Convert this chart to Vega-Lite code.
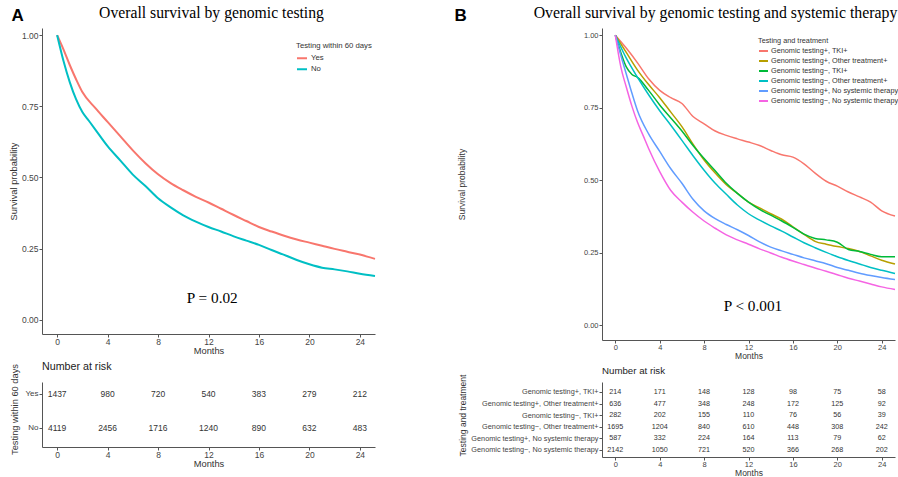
{
  "$schema": "https://vega.github.io/schema/vega-lite/v6.json",
  "background": "white",
  "padding": {"left": 9, "top": 4, "right": 0, "bottom": 0},
  "config": {
    "view": {"stroke": null},
    "font": "Liberation Sans",
    "axis": {"grid": false, "domainColor": "#555", "tickColor": "#555", "labelColor": "#444", "titleColor": "#333", "titleFontWeight": "normal", "tickSize": 3, "labelFont": "Liberation Sans", "titleFont": "Liberation Sans", "labelFlush": false},
    "legend": {"padding": 0, "labelFont": "Liberation Sans", "titleFont": "Liberation Sans", "titleFontWeight": "normal", "titleColor": "#333", "labelColor": "#333"},
    "title": {"font": "Liberation Sans", "fontWeight": "normal", "color": "#222"}
  },
  "datasets": {
    "survA": [
      {"group":"Yes","month":0,"surv":1},{"group":"Yes","month":0.5,"surv":0.95},{"group":"Yes","month":1,"surv":0.895},{"group":"Yes","month":1.5,"surv":0.845},{"group":"Yes","month":2,"surv":0.8},{"group":"Yes","month":3,"surv":0.745},{"group":"Yes","month":4,"surv":0.695},{"group":"Yes","month":5,"surv":0.645},{"group":"Yes","month":6,"surv":0.595},{"group":"Yes","month":7,"surv":0.55},{"group":"Yes","month":8,"surv":0.511},{"group":"Yes","month":9,"surv":0.48},{"group":"Yes","month":10,"surv":0.455},{"group":"Yes","month":11,"surv":0.432},{"group":"Yes","month":12,"surv":0.412},{"group":"Yes","month":13,"surv":0.39},{"group":"Yes","month":14,"surv":0.368},{"group":"Yes","month":15,"surv":0.347},{"group":"Yes","month":16,"surv":0.326},{"group":"Yes","month":17,"surv":0.31},{"group":"Yes","month":18,"surv":0.295},{"group":"Yes","month":19,"surv":0.282},{"group":"Yes","month":20,"surv":0.271},{"group":"Yes","month":21,"surv":0.26},{"group":"Yes","month":22,"surv":0.249},{"group":"Yes","month":23,"surv":0.239},{"group":"Yes","month":24,"surv":0.229},{"group":"Yes","month":25.2,"surv":0.214},
      {"group":"No","month":0,"surv":1},{"group":"No","month":0.5,"surv":0.91},{"group":"No","month":1,"surv":0.835},{"group":"No","month":1.5,"surv":0.775},{"group":"No","month":2,"surv":0.73},{"group":"No","month":2.5,"surv":0.7},{"group":"No","month":3,"surv":0.67},{"group":"No","month":4,"surv":0.61},{"group":"No","month":5,"surv":0.56},{"group":"No","month":6,"surv":0.51},{"group":"No","month":7,"surv":0.47},{"group":"No","month":8,"surv":0.427},{"group":"No","month":9,"surv":0.395},{"group":"No","month":10,"surv":0.367},{"group":"No","month":11,"surv":0.345},{"group":"No","month":12,"surv":0.326},{"group":"No","month":13,"surv":0.31},{"group":"No","month":14,"surv":0.293},{"group":"No","month":15,"surv":0.278},{"group":"No","month":16,"surv":0.263},{"group":"No","month":17,"surv":0.245},{"group":"No","month":18,"surv":0.228},{"group":"No","month":19,"surv":0.21},{"group":"No","month":20,"surv":0.195},{"group":"No","month":21,"surv":0.183},{"group":"No","month":22,"surv":0.177},{"group":"No","month":23,"surv":0.17},{"group":"No","month":24,"surv":0.162},{"group":"No","month":25.2,"surv":0.154}
    ],
    "survB": [
      {"group":"Genomic testing+, TKI+","month":0,"surv":1},{"group":"Genomic testing+, TKI+","month":1,"surv":0.955},{"group":"Genomic testing+, TKI+","month":2,"surv":0.905},{"group":"Genomic testing+, TKI+","month":3,"surv":0.85},{"group":"Genomic testing+, TKI+","month":4,"surv":0.81},{"group":"Genomic testing+, TKI+","month":5,"surv":0.785},{"group":"Genomic testing+, TKI+","month":6,"surv":0.765},{"group":"Genomic testing+, TKI+","month":7,"surv":0.72},{"group":"Genomic testing+, TKI+","month":8,"surv":0.695},{"group":"Genomic testing+, TKI+","month":9,"surv":0.67},{"group":"Genomic testing+, TKI+","month":10,"surv":0.655},{"group":"Genomic testing+, TKI+","month":11,"surv":0.643},{"group":"Genomic testing+, TKI+","month":12,"surv":0.632},{"group":"Genomic testing+, TKI+","month":13,"surv":0.62},{"group":"Genomic testing+, TKI+","month":14,"surv":0.603},{"group":"Genomic testing+, TKI+","month":15,"surv":0.588},{"group":"Genomic testing+, TKI+","month":16,"surv":0.58},{"group":"Genomic testing+, TKI+","month":17,"surv":0.557},{"group":"Genomic testing+, TKI+","month":18,"surv":0.525},{"group":"Genomic testing+, TKI+","month":19,"surv":0.497},{"group":"Genomic testing+, TKI+","month":20,"surv":0.48},{"group":"Genomic testing+, TKI+","month":21,"surv":0.46},{"group":"Genomic testing+, TKI+","month":22,"surv":0.443},{"group":"Genomic testing+, TKI+","month":23,"surv":0.425},{"group":"Genomic testing+, TKI+","month":24,"surv":0.395},{"group":"Genomic testing+, TKI+","month":25.2,"surv":0.377},
      {"group":"Genomic testing+, Other treatment+","month":0,"surv":1},{"group":"Genomic testing+, Other treatment+","month":1,"surv":0.94},{"group":"Genomic testing+, Other treatment+","month":2,"surv":0.88},{"group":"Genomic testing+, Other treatment+","month":3,"surv":0.83},{"group":"Genomic testing+, Other treatment+","month":4,"surv":0.785},{"group":"Genomic testing+, Other treatment+","month":5,"surv":0.735},{"group":"Genomic testing+, Other treatment+","month":6,"surv":0.685},{"group":"Genomic testing+, Other treatment+","month":7,"surv":0.625},{"group":"Genomic testing+, Other treatment+","month":8,"surv":0.57},{"group":"Genomic testing+, Other treatment+","month":9,"surv":0.525},{"group":"Genomic testing+, Other treatment+","month":10,"surv":0.485},{"group":"Genomic testing+, Other treatment+","month":11,"surv":0.455},{"group":"Genomic testing+, Other treatment+","month":12,"surv":0.425},{"group":"Genomic testing+, Other treatment+","month":13,"surv":0.405},{"group":"Genomic testing+, Other treatment+","month":14,"surv":0.385},{"group":"Genomic testing+, Other treatment+","month":15,"surv":0.366},{"group":"Genomic testing+, Other treatment+","month":16,"surv":0.34},{"group":"Genomic testing+, Other treatment+","month":17,"surv":0.314},{"group":"Genomic testing+, Other treatment+","month":18,"surv":0.29},{"group":"Genomic testing+, Other treatment+","month":19,"surv":0.28},{"group":"Genomic testing+, Other treatment+","month":20,"surv":0.272},{"group":"Genomic testing+, Other treatment+","month":21,"surv":0.265},{"group":"Genomic testing+, Other treatment+","month":22,"surv":0.255},{"group":"Genomic testing+, Other treatment+","month":23,"surv":0.24},{"group":"Genomic testing+, Other treatment+","month":24,"surv":0.225},{"group":"Genomic testing+, Other treatment+","month":25.2,"surv":0.212},
      {"group":"Genomic testing−, TKI+","month":0,"surv":1},{"group":"Genomic testing−, TKI+","month":0.5,"surv":0.94},{"group":"Genomic testing−, TKI+","month":1,"surv":0.89},{"group":"Genomic testing−, TKI+","month":1.5,"surv":0.865},{"group":"Genomic testing−, TKI+","month":2,"surv":0.855},{"group":"Genomic testing−, TKI+","month":3,"surv":0.81},{"group":"Genomic testing−, TKI+","month":4,"surv":0.76},{"group":"Genomic testing−, TKI+","month":5,"surv":0.715},{"group":"Genomic testing−, TKI+","month":6,"surv":0.67},{"group":"Genomic testing−, TKI+","month":7,"surv":0.62},{"group":"Genomic testing−, TKI+","month":8,"surv":0.575},{"group":"Genomic testing−, TKI+","month":9,"surv":0.533},{"group":"Genomic testing−, TKI+","month":10,"surv":0.49},{"group":"Genomic testing−, TKI+","month":11,"surv":0.455},{"group":"Genomic testing−, TKI+","month":12,"surv":0.425},{"group":"Genomic testing−, TKI+","month":13,"surv":0.4},{"group":"Genomic testing−, TKI+","month":14,"surv":0.38},{"group":"Genomic testing−, TKI+","month":15,"surv":0.36},{"group":"Genomic testing−, TKI+","month":16,"surv":0.338},{"group":"Genomic testing−, TKI+","month":17,"surv":0.315},{"group":"Genomic testing−, TKI+","month":18,"surv":0.3},{"group":"Genomic testing−, TKI+","month":19,"surv":0.295},{"group":"Genomic testing−, TKI+","month":20,"surv":0.287},{"group":"Genomic testing−, TKI+","month":21,"surv":0.262},{"group":"Genomic testing−, TKI+","month":22,"surv":0.255},{"group":"Genomic testing−, TKI+","month":23,"surv":0.245},{"group":"Genomic testing−, TKI+","month":24,"surv":0.237},{"group":"Genomic testing−, TKI+","month":25.2,"surv":0.237},
      {"group":"Genomic testing−, Other treatment+","month":0,"surv":1},{"group":"Genomic testing−, Other treatment+","month":1,"surv":0.92},{"group":"Genomic testing−, Other treatment+","month":2,"surv":0.855},{"group":"Genomic testing−, Other treatment+","month":3,"surv":0.795},{"group":"Genomic testing−, Other treatment+","month":4,"surv":0.74},{"group":"Genomic testing−, Other treatment+","month":5,"surv":0.69},{"group":"Genomic testing−, Other treatment+","month":6,"surv":0.638},{"group":"Genomic testing−, Other treatment+","month":7,"surv":0.585},{"group":"Genomic testing−, Other treatment+","month":8,"surv":0.535},{"group":"Genomic testing−, Other treatment+","month":9,"surv":0.49},{"group":"Genomic testing−, Other treatment+","month":10,"surv":0.452},{"group":"Genomic testing−, Other treatment+","month":11,"surv":0.415},{"group":"Genomic testing−, Other treatment+","month":12,"surv":0.385},{"group":"Genomic testing−, Other treatment+","month":13,"surv":0.363},{"group":"Genomic testing−, Other treatment+","month":14,"surv":0.343},{"group":"Genomic testing−, Other treatment+","month":15,"surv":0.325},{"group":"Genomic testing−, Other treatment+","month":16,"surv":0.305},{"group":"Genomic testing−, Other treatment+","month":17,"surv":0.285},{"group":"Genomic testing−, Other treatment+","month":18,"surv":0.268},{"group":"Genomic testing−, Other treatment+","month":19,"surv":0.252},{"group":"Genomic testing−, Other treatment+","month":20,"surv":0.237},{"group":"Genomic testing−, Other treatment+","month":21,"surv":0.224},{"group":"Genomic testing−, Other treatment+","month":22,"surv":0.212},{"group":"Genomic testing−, Other treatment+","month":23,"surv":0.2},{"group":"Genomic testing−, Other treatment+","month":24,"surv":0.19},{"group":"Genomic testing−, Other treatment+","month":25.2,"surv":0.179},
      {"group":"Genomic testing+, No systemic therapy","month":0,"surv":1},{"group":"Genomic testing+, No systemic therapy","month":0.5,"surv":0.93},{"group":"Genomic testing+, No systemic therapy","month":1,"surv":0.865},{"group":"Genomic testing+, No systemic therapy","month":1.5,"surv":0.8},{"group":"Genomic testing+, No systemic therapy","month":2,"surv":0.74},{"group":"Genomic testing+, No systemic therapy","month":3,"surv":0.66},{"group":"Genomic testing+, No systemic therapy","month":4,"surv":0.6},{"group":"Genomic testing+, No systemic therapy","month":5,"surv":0.54},{"group":"Genomic testing+, No systemic therapy","month":6,"surv":0.49},{"group":"Genomic testing+, No systemic therapy","month":7,"surv":0.435},{"group":"Genomic testing+, No systemic therapy","month":8,"surv":0.395},{"group":"Genomic testing+, No systemic therapy","month":9,"surv":0.368},{"group":"Genomic testing+, No systemic therapy","month":10,"surv":0.348},{"group":"Genomic testing+, No systemic therapy","month":11,"surv":0.33},{"group":"Genomic testing+, No systemic therapy","month":12,"surv":0.31},{"group":"Genomic testing+, No systemic therapy","month":13,"surv":0.288},{"group":"Genomic testing+, No systemic therapy","month":14,"surv":0.27},{"group":"Genomic testing+, No systemic therapy","month":15,"surv":0.257},{"group":"Genomic testing+, No systemic therapy","month":16,"surv":0.245},{"group":"Genomic testing+, No systemic therapy","month":17,"surv":0.233},{"group":"Genomic testing+, No systemic therapy","month":18,"surv":0.223},{"group":"Genomic testing+, No systemic therapy","month":19,"surv":0.213},{"group":"Genomic testing+, No systemic therapy","month":20,"surv":0.2},{"group":"Genomic testing+, No systemic therapy","month":21,"surv":0.19},{"group":"Genomic testing+, No systemic therapy","month":22,"surv":0.18},{"group":"Genomic testing+, No systemic therapy","month":23,"surv":0.172},{"group":"Genomic testing+, No systemic therapy","month":24,"surv":0.165},{"group":"Genomic testing+, No systemic therapy","month":25.2,"surv":0.158},
      {"group":"Genomic testing−, No systemic therapy","month":0,"surv":1},{"group":"Genomic testing−, No systemic therapy","month":0.5,"surv":0.89},{"group":"Genomic testing−, No systemic therapy","month":1,"surv":0.82},{"group":"Genomic testing−, No systemic therapy","month":1.5,"surv":0.755},{"group":"Genomic testing−, No systemic therapy","month":2,"surv":0.7},{"group":"Genomic testing−, No systemic therapy","month":2.5,"surv":0.655},{"group":"Genomic testing−, No systemic therapy","month":3,"surv":0.61},{"group":"Genomic testing−, No systemic therapy","month":4,"surv":0.53},{"group":"Genomic testing−, No systemic therapy","month":5,"surv":0.465},{"group":"Genomic testing−, No systemic therapy","month":6,"surv":0.425},{"group":"Genomic testing−, No systemic therapy","month":7,"surv":0.39},{"group":"Genomic testing−, No systemic therapy","month":8,"surv":0.36},{"group":"Genomic testing−, No systemic therapy","month":9,"surv":0.335},{"group":"Genomic testing−, No systemic therapy","month":10,"surv":0.312},{"group":"Genomic testing−, No systemic therapy","month":11,"surv":0.295},{"group":"Genomic testing−, No systemic therapy","month":12,"surv":0.28},{"group":"Genomic testing−, No systemic therapy","month":13,"surv":0.264},{"group":"Genomic testing−, No systemic therapy","month":14,"surv":0.25},{"group":"Genomic testing−, No systemic therapy","month":15,"surv":0.235},{"group":"Genomic testing−, No systemic therapy","month":16,"surv":0.222},{"group":"Genomic testing−, No systemic therapy","month":17,"surv":0.21},{"group":"Genomic testing−, No systemic therapy","month":18,"surv":0.198},{"group":"Genomic testing−, No systemic therapy","month":19,"surv":0.187},{"group":"Genomic testing−, No systemic therapy","month":20,"surv":0.175},{"group":"Genomic testing−, No systemic therapy","month":21,"surv":0.163},{"group":"Genomic testing−, No systemic therapy","month":22,"surv":0.153},{"group":"Genomic testing−, No systemic therapy","month":23,"surv":0.143},{"group":"Genomic testing−, No systemic therapy","month":24,"surv":0.133},{"group":"Genomic testing−, No systemic therapy","month":25.2,"surv":0.124}
    ],
    "riskA": [
      {"group":"Yes","month":0,"n":1437},{"group":"Yes","month":4,"n":980},{"group":"Yes","month":8,"n":720},{"group":"Yes","month":12,"n":540},{"group":"Yes","month":16,"n":383},{"group":"Yes","month":20,"n":279},{"group":"Yes","month":24,"n":212},
      {"group":"No","month":0,"n":4119},{"group":"No","month":4,"n":2456},{"group":"No","month":8,"n":1716},{"group":"No","month":12,"n":1240},{"group":"No","month":16,"n":890},{"group":"No","month":20,"n":632},{"group":"No","month":24,"n":483}
    ],
    "riskB": [
      {"group":"Genomic testing+, TKI+","month":0,"n":214},{"group":"Genomic testing+, TKI+","month":4,"n":171},{"group":"Genomic testing+, TKI+","month":8,"n":148},{"group":"Genomic testing+, TKI+","month":12,"n":128},{"group":"Genomic testing+, TKI+","month":16,"n":98},{"group":"Genomic testing+, TKI+","month":20,"n":75},{"group":"Genomic testing+, TKI+","month":24,"n":58},
      {"group":"Genomic testing+, Other treatment+","month":0,"n":636},{"group":"Genomic testing+, Other treatment+","month":4,"n":477},{"group":"Genomic testing+, Other treatment+","month":8,"n":348},{"group":"Genomic testing+, Other treatment+","month":12,"n":248},{"group":"Genomic testing+, Other treatment+","month":16,"n":172},{"group":"Genomic testing+, Other treatment+","month":20,"n":125},{"group":"Genomic testing+, Other treatment+","month":24,"n":92},
      {"group":"Genomic testing−, TKI+","month":0,"n":282},{"group":"Genomic testing−, TKI+","month":4,"n":202},{"group":"Genomic testing−, TKI+","month":8,"n":155},{"group":"Genomic testing−, TKI+","month":12,"n":110},{"group":"Genomic testing−, TKI+","month":16,"n":76},{"group":"Genomic testing−, TKI+","month":20,"n":56},{"group":"Genomic testing−, TKI+","month":24,"n":39},
      {"group":"Genomic testing−, Other treatment+","month":0,"n":1695},{"group":"Genomic testing−, Other treatment+","month":4,"n":1204},{"group":"Genomic testing−, Other treatment+","month":8,"n":840},{"group":"Genomic testing−, Other treatment+","month":12,"n":610},{"group":"Genomic testing−, Other treatment+","month":16,"n":448},{"group":"Genomic testing−, Other treatment+","month":20,"n":308},{"group":"Genomic testing−, Other treatment+","month":24,"n":242},
      {"group":"Genomic testing+, No systemic therapy","month":0,"n":587},{"group":"Genomic testing+, No systemic therapy","month":4,"n":332},{"group":"Genomic testing+, No systemic therapy","month":8,"n":224},{"group":"Genomic testing+, No systemic therapy","month":12,"n":164},{"group":"Genomic testing+, No systemic therapy","month":16,"n":113},{"group":"Genomic testing+, No systemic therapy","month":20,"n":79},{"group":"Genomic testing+, No systemic therapy","month":24,"n":62},
      {"group":"Genomic testing−, No systemic therapy","month":0,"n":2142},{"group":"Genomic testing−, No systemic therapy","month":4,"n":1050},{"group":"Genomic testing−, No systemic therapy","month":8,"n":721},{"group":"Genomic testing−, No systemic therapy","month":12,"n":520},{"group":"Genomic testing−, No systemic therapy","month":16,"n":366},{"group":"Genomic testing−, No systemic therapy","month":20,"n":268},{"group":"Genomic testing−, No systemic therapy","month":24,"n":202}
    ],
    "pvalA": [{"month": 12.3, "surv": 0.077, "label": "P = 0.02"}],
    "pvalB": [{"month": 12.4, "surv": 0.066, "label": "P < 0.001"}]
  },
  "columns": 2,
  "bounds": "flush",
  "spacing": {"row": 42, "column": 227},
  "resolve": {"scale": {"x": "independent", "y": "independent", "color": "independent"}, "legend": {"color": "independent"}},
  "concat": [
    {
      "width": 333,
      "height": 306,
      "resolve": {"axis": {"x": "independent", "y": "independent"}},
      "layer": [
        {
          "data": {"name": "survA"},
          "mark": {"type": "line", "strokeWidth": 2, "interpolate": "monotone"},
          "encoding": {
            "x": {"field": "month", "type": "quantitative", "scale": {"domain": [-1.2, 25.2], "nice": false, "zero": false},
                  "axis": {"orient": "bottom", "values": [0,4,8,12,16,20,24], "title": "Months", "labelFontSize": 8.5, "titleFontSize": 9.3, "labelPadding": 0.5, "titlePadding": 0}},
            "y": {"field": "surv", "type": "quantitative", "scale": {"domain": [-0.05, 1.025], "nice": false, "zero": false},
                  "axis": {"orient": "left", "values": [0,0.25,0.5,0.75,1], "format": ".2f", "title": "Survival probability", "labelFontSize": 8.5, "titleFontSize": 9.3, "labelPadding": 1, "titleX": -24}},
            "color": {"field": "group", "type": "nominal", "scale": {"domain": ["Yes","No"], "range": ["#F8766D","#00BFC4"]},
                      "legend": {"title": "Testing within 60 days", "orient": "none", "legendX": 254, "legendY": 13.5, "symbolType": "stroke", "symbolSize": 100, "symbolStrokeWidth": 2, "labelFontSize": 7.75, "titleFontSize": 7.75, "rowPadding": 1, "titlePadding": 3, "labelOffset": 3}}
          }
        },
        {
          "data": {"name": "pvalA"},
          "mark": {"type": "text", "font": "Liberation Serif", "fontSize": 15.3, "color": "black"},
          "encoding": {
            "x": {"field": "month", "type": "quantitative",
                  "axis": {"orient": "top", "domain": false, "ticks": false, "labels": false, "title": "Overall survival by genomic testing", "titleFont": "Liberation Serif", "titleFontSize": 15.7, "titleColor": "black", "titleX": 169, "titleY": -10.5, "titleAlign": "center", "titleBaseline": "alphabetic"}},
            "y": {"field": "surv", "type": "quantitative",
                  "axis": {"orient": "right", "domain": false, "ticks": false, "labels": false, "title": "A", "titleAngle": 0, "titleX": -364, "titleY": -8, "titleAlign": "left", "titleBaseline": "alphabetic", "titleFontSize": 17, "titleFontWeight": "bold", "titleColor": "black"}},
            "text": {"field": "label", "type": "nominal"}
          }
        }
      ]
    },
    {
      "width": 293,
      "height": 312,
      "resolve": {"axis": {"x": "independent", "y": "independent"}},
      "layer": [
        {
          "data": {"name": "survB"},
          "mark": {"type": "line", "strokeWidth": 1.5, "interpolate": "monotone"},
          "encoding": {
            "x": {"field": "month", "type": "quantitative", "scale": {"domain": [-1.2, 25.2], "nice": false, "zero": false},
                  "axis": {"orient": "bottom", "values": [0,4,8,12,16,20,24], "title": "Months", "labelFontSize": 7.5, "titleFontSize": 8.5, "labelPadding": 0.5, "titlePadding": 0}},
            "y": {"field": "surv", "type": "quantitative", "scale": {"domain": [-0.05, 1.025], "nice": false, "zero": false},
                  "axis": {"orient": "left", "values": [0,0.25,0.5,0.75,1], "format": ".2f", "title": "Survival probability", "labelFontSize": 7.5, "titleFontSize": 8.5, "labelPadding": 1, "titleX": -136}},
            "color": {"field": "group", "type": "nominal",
                      "scale": {"domain": ["Genomic testing+, TKI+","Genomic testing+, Other treatment+","Genomic testing−, TKI+","Genomic testing−, Other treatment+","Genomic testing+, No systemic therapy","Genomic testing−, No systemic therapy"],
                                "range": ["#F8766D","#B79F00","#00BA38","#00BFC4","#619CFF","#F564E3"]},
                      "legend": {"title": "Testing and treatment", "orient": "none", "legendX": 156, "legendY": 8.7, "symbolType": "stroke", "symbolSize": 81, "symbolStrokeWidth": 2, "labelFontSize": 7.3, "titleFontSize": 7.3, "rowPadding": -1, "titlePadding": 1.5, "labelOffset": 2}}
          }
        },
        {
          "data": {"name": "pvalB"},
          "mark": {"type": "text", "font": "Liberation Serif", "fontSize": 15.3, "color": "black"},
          "encoding": {
            "x": {"field": "month", "type": "quantitative",
                  "axis": {"orient": "top", "domain": false, "ticks": false, "labels": false, "title": "Overall survival by genomic testing and systemic therapy", "titleFont": "Liberation Serif", "titleFontSize": 15.8, "titleColor": "black", "titleX": 113, "titleY": -10.5, "titleAlign": "center", "titleBaseline": "alphabetic"}},
            "y": {"field": "surv", "type": "quantitative",
                  "axis": {"orient": "right", "domain": false, "ticks": false, "labels": false, "title": "B", "titleAngle": 0, "titleX": -441, "titleY": -8, "titleAlign": "left", "titleBaseline": "alphabetic", "titleFontSize": 17, "titleFontWeight": "bold", "titleColor": "black"}},
            "text": {"field": "label", "type": "nominal"}
          }
        }
      ]
    },
    {
      "width": 333,
      "height": 65,
      "data": {"name": "riskA"},
      "title": {"text": "Number at risk", "anchor": "start", "frame": "group", "fontSize": 10.7, "baseline": "alphabetic", "offset": -17},
      "mark": {"type": "text", "fontSize": 8.5, "color": "#333"},
      "encoding": {
        "x": {"field": "month", "type": "quantitative", "scale": {"domain": [-1.2, 25.2], "nice": false, "zero": false},
              "axis": {"values": [0,4,8,12,16,20,24], "title": "Months", "labelFontSize": 8.5, "titleFontSize": 9.3, "labelPadding": 0.5, "titlePadding": 0}},
        "y": {"field": "group", "type": "nominal", "scale": {"type": "point", "domain": ["Yes","No"], "padding": 0.456, "align": 0.387},
              "axis": {"title": "Testing within 60 days", "labelFontSize": 8, "titleFontSize": 9.3, "labelPadding": 1, "titleX": -23, "titleY": 27}},
        "text": {"field": "n", "type": "quantitative", "format": "d"}
      }
    },
    {
      "width": 293,
      "height": 75,
      "data": {"name": "riskB"},
      "title": {"text": "Number at risk", "anchor": "start", "frame": "group", "fontSize": 9.7, "baseline": "alphabetic", "offset": -9.5},
      "mark": {"type": "text", "fontSize": 7.2, "color": "#333"},
      "encoding": {
        "x": {"field": "month", "type": "quantitative", "scale": {"domain": [-1.2, 25.2], "nice": false, "zero": false},
              "axis": {"values": [0,4,8,12,16,20,24], "title": "Months", "labelFontSize": 7.5, "titleFontSize": 8.5, "labelPadding": 0.5, "titlePadding": 0}},
        "y": {"field": "group", "type": "nominal",
              "scale": {"type": "point", "padding": 0.733, "align": 0.588, "domain": ["Genomic testing+, TKI+","Genomic testing+, Other treatment+","Genomic testing−, TKI+","Genomic testing−, Other treatment+","Genomic testing+, No systemic therapy","Genomic testing−, No systemic therapy"]},
              "axis": {"title": "Testing and treatment", "labelFontSize": 7.3, "titleFontSize": 8.5, "labelPadding": 1, "titleX": -135, "titleY": 33, "labelLimit": 200}},
        "text": {"field": "n", "type": "quantitative", "format": "d"}
      }
    }
  ]
}
